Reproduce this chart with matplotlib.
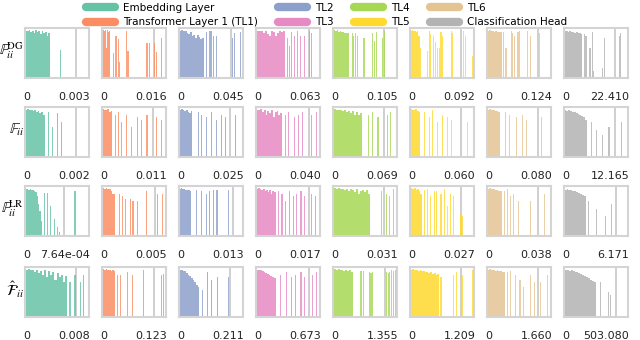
import numpy as np
import matplotlib.pyplot as plt
from matplotlib.lines import Line2D

plt.rcParams['font.family'] = ['DejaVu Sans']
plt.rcParams['mathtext.fontset'] = 'stix'

layers = ['Embedding Layer', 'Transformer Layer 1 (TL1)', 'TL2', 'TL3',
          'TL4', 'TL5', 'TL6', 'Classification Head']
colors = ['#66c2a5', '#fc8d62', '#8da0cb', '#e78ac3',
          '#a6d854', '#ffd92f', '#e5c494', '#b3b3b3']
row_labels = [r'$\mathbb{F}_{ii}^{\mathrm{DG}}$', r'$\mathbb{F}_{ii}$',
              r'$\mathbb{F}_{ii}^{\mathrm{LR}}$', r'$\hat{\mathcal{F}}_{ii}$']

# largest value of each panel (x axis runs from 0 to it)
max_dg = ['0.003', '0.016', '0.045', '0.063', '0.105', '0.092', '0.124', '22.410']
max_f = ['0.002', '0.011', '0.025', '0.040', '0.069', '0.060', '0.080', '12.165']
max_lr = ['7.64e-04', '0.005', '0.013', '0.017', '0.031', '0.027', '0.038', '6.171']
max_hat = ['0.008', '0.123', '0.211', '0.673', '1.355', '1.209', '1.660', '503.080']

# dense part near zero: end of block (fraction of max) and bar heights
dg_end = [0.38, 0.12, 0.38, 0.45, 0.24, 0.14, 0.22, 0.28]
dg_dense = [
    [0.95, 0.94, 0.96, 0.92, 0.95, 0.90, 0.96, 0.93, 0.95, 0.88, 0.94, 0.90, 0.92, 0.85, 0.90],
    [0.96, 0.95, 0.96, 0.60, 0.96, 0.93, 0.95],
    [0.95, 0.96, 0.94, 0.95, 0.90, 0.88, 0.93, 0.85, 0.87, 0.80, 0.86, 0.82, 0.78, 0.80],
    [0.95, 0.94, 0.95, 0.90, 0.95, 0.88, 0.85, 0.95, 0.92, 0.85, 0.90, 0.95, 0.93, 0.95],
    [0.96, 0.95, 0.96, 0.93, 0.94, 0.92, 0.93, 0.90, 0.91, 0.90],
    [0.95, 0.96, 0.94, 0.95, 0.93, 0.95, 0.85],
    [0.95, 0.96, 0.94, 0.95, 0.93, 0.95, 0.92, 0.93, 0.92],
    [0.94, 0.95, 0.93, 0.94, 0.92, 0.93, 0.91, 0.92, 0.90, 0.90, 0.89],
]
dg_x = [
    [0.55],
    [0.17, 0.21, 0.25, 0.27, 0.37, 0.40, 0.70, 0.74, 0.82, 0.85, 0.93],
    [0.42, 0.48, 0.50, 0.53, 0.58, 0.84, 0.87, 0.96],
    [0.49, 0.52, 0.55, 0.60, 0.65, 0.69, 0.76, 0.84, 0.87],
    [0.30, 0.32, 0.35, 0.37, 0.48, 0.61, 0.64, 0.68, 0.77, 0.80],
    [0.16, 0.26, 0.30, 0.32, 0.36, 0.39, 0.43, 0.46, 0.48, 0.50, 0.64, 0.66, 0.83, 0.86, 0.97],
    [0.25, 0.29, 0.37, 0.39, 0.43, 0.48, 0.50, 0.63, 0.68, 0.82],
    [0.31, 0.33, 0.35, 0.40, 0.44, 0.46, 0.60, 0.63, 0.86, 0.88],
]
dg_h = [
    [0.57],
    [0.50, 0.85, 0.78, 0.33, 0.95, 0.54, 0.70, 0.70, 0.70, 0.52, 0.80],
    [0.93, 0.95, 0.95, 0.85, 0.85, 0.80, 0.90, 0.92],
    [0.80, 0.65, 0.93, 0.85, 0.95, 0.85, 0.85, 0.95, 0.90],
    [0.90, 0.85, 0.90, 0.85, 0.80, 0.90, 0.75, 0.92, 0.80, 0.95],
    [0.60, 0.55, 0.95, 0.88, 0.85, 0.72, 0.60, 0.60, 0.92, 0.85, 0.95, 0.90, 0.95, 0.85, 0.45],
    [0.93, 0.60, 0.95, 0.90, 0.85, 0.92, 0.95, 0.95, 0.85, 0.90],
    [0.88, 0.85, 0.85, 0.60, 0.93, 0.15, 0.20, 0.80, 0.85, 0.90],
]
dg_vline = [0.80, 0.81, 0.81, 0.82, 0.80, 0.80, 0.80, 0.80]

f_end = [0.30, 0.15, 0.20, 0.40, 0.45, 0.15, 0.20, 0.35]
f_dense = [
    [0.95, 0.96, 0.94, 0.95, 0.92, 0.94, 0.90, 0.93, 0.88, 0.90, 0.85],
    [0.96, 0.95, 0.94, 0.96, 0.90, 0.93],
    [0.95, 0.96, 0.94, 0.92, 0.95, 0.90, 0.88, 0.92],
    [0.95, 0.94, 0.96, 0.90, 0.95, 0.85, 0.93, 0.88, 0.95, 0.80, 0.90, 0.92, 0.85, 0.88],
    [0.96, 0.95, 0.94, 0.95, 0.92, 0.95, 0.90, 0.93, 0.88, 0.92, 0.85, 0.90, 0.85, 0.88],
    [0.96, 0.95, 0.94, 0.96, 0.92, 0.90],
    [0.95, 0.96, 0.94, 0.95, 0.92, 0.93, 0.90],
    [0.94, 0.93, 0.94, 0.92, 0.91, 0.90, 0.88, 0.87, 0.85, 0.83, 0.80, 0.75],
]
f_x = [
    [0.36, 0.42, 0.50, 0.57],
    [0.20, 0.25, 0.30, 0.38, 0.45, 0.55, 0.62, 0.70, 0.85, 0.93],
    [0.30, 0.35, 0.42, 0.50, 0.58, 0.66, 0.72, 0.88],
    [0.45, 0.50, 0.60, 0.66, 0.73, 0.87, 0.95],
    [0.55, 0.62, 0.70, 0.85, 0.90],
    [0.22, 0.30, 0.35, 0.42, 0.50, 0.58, 0.65, 0.90],
    [0.28, 0.35, 0.45, 0.55, 0.62, 0.85],
    [0.42, 0.50, 0.60, 0.70, 0.90],
]
f_h = [
    [0.90, 0.60, 0.88, 0.70],
    [0.85, 0.90, 0.70, 0.85, 0.60, 0.80, 0.75, 0.85, 0.80, 0.75],
    [0.90, 0.85, 0.80, 0.90, 0.75, 0.85, 0.80, 0.85],
    [0.85, 0.90, 0.80, 0.85, 0.90, 0.85, 0.90],
    [0.85, 0.90, 0.80, 0.85, 0.90],
    [0.90, 0.80, 0.95, 0.70, 0.85, 0.80, 0.75, 0.70],
    [0.90, 0.85, 0.80, 0.85, 0.75, 0.80],
    [0.70, 0.55, 0.45, 0.60, 0.70],
]
f_vline = [0.80, 0.80, 0.80, 0.82, 0.80, 0.80, 0.80, 0.80]

lr_end = [0.26, 0.20, 0.18, 0.30, 0.57, 0.18, 0.22, 0.33]
lr_dense = [
    [0.95, 0.94, 0.93, 0.95, 0.92, 0.93, 0.90, 0.88, 0.80, 0.65, 0.50, 0.30],
    [0.96, 0.95, 0.96, 0.94, 0.95, 0.90, 0.85, 0.85],
    [0.95, 0.96, 0.94, 0.95, 0.93, 0.92, 0.93, 0.90],
    [0.95, 0.96, 0.94, 0.92, 0.95, 0.90, 0.93, 0.88, 0.92, 0.85, 0.90, 0.88],
    [0.96, 0.95, 0.96, 0.94, 0.95, 0.93, 0.95, 0.90, 0.94, 0.92, 0.88, 0.95, 0.85, 0.90, 0.92, 0.88, 0.93, 0.85],
    [0.96, 0.95, 0.96, 0.93, 0.95, 0.90, 0.85],
    [0.95, 0.96, 0.94, 0.95, 0.93, 0.92, 0.90, 0.90],
    [0.93, 0.94, 0.92, 0.93, 0.90, 0.91, 0.88, 0.87, 0.85, 0.82, 0.80],
]
lr_x = [
    [0.30, 0.34, 0.39, 0.45, 0.50, 0.53, 0.78],
    [0.26, 0.31, 0.36, 0.44, 0.48, 0.55, 0.69, 0.87, 0.95],
    [0.27, 0.34, 0.42, 0.47, 0.54, 0.59, 0.77],
    [0.35, 0.40, 0.45, 0.52, 0.58, 0.63, 0.70, 0.76, 0.86, 0.93],
    [0.75, 0.83, 0.88, 0.94],
    [0.22, 0.27, 0.32, 0.37, 0.41, 0.48, 0.53, 0.58, 0.63, 0.68, 0.79, 0.82],
    [0.26, 0.31, 0.36, 0.41, 0.49, 0.67, 0.90],
    [0.38, 0.50, 0.64, 0.74],
]
lr_h = [
    [0.87, 0.87, 0.60, 0.35, 0.19, 0.08, 0.90],
    [0.85, 0.80, 0.75, 0.75, 0.70, 0.70, 0.90, 0.85, 0.85],
    [0.93, 0.90, 0.85, 0.90, 0.92, 0.92, 0.92],
    [0.90, 0.85, 0.70, 0.90, 0.80, 0.85, 0.90, 0.80, 0.85, 0.80],
    [0.90, 0.85, 0.80, 0.95],
    [0.93, 0.95, 0.80, 0.90, 0.90, 0.85, 0.95, 0.60, 0.85, 0.80, 0.45, 0.40],
    [0.90, 0.95, 0.80, 0.85, 0.70, 0.70, 0.85],
    [0.70, 0.55, 0.40, 0.65],
]
lr_vline = [0.60, 0.82, 0.85, 0.82, 0.80, 0.80, 0.80, 0.81]

hat_end = [0.65, 0.20, 0.31, 0.30, 0.31, 0.45, 0.28, 0.50]
hat_dense = [
    [0.95, 0.96, 0.94, 0.95, 0.90, 0.95, 0.88, 0.93, 0.85, 0.95, 0.80, 0.92, 0.85, 0.90, 0.75, 0.88, 0.80, 0.85, 0.70, 0.82],
    [0.96, 0.95, 0.96, 0.94, 0.95, 0.93, 0.95, 0.92],
    [0.95, 0.94, 0.93, 0.92, 0.88, 0.85, 0.82, 0.78, 0.75, 0.70, 0.65, 0.60],
    [0.95, 0.94, 0.95, 0.92, 0.90, 0.88, 0.86, 0.85, 0.82, 0.80, 0.78],
    [0.96, 0.95, 0.96, 0.94, 0.95, 0.93, 0.95, 0.92, 0.94, 0.90],
    [0.95, 0.96, 0.95, 0.94, 0.93, 0.94, 0.92, 0.93, 0.90, 0.91, 0.88, 0.90, 0.87, 0.88, 0.85, 0.86],
    [0.95, 0.96, 0.94, 0.95, 0.93, 0.94, 0.92, 0.93, 0.90, 0.91],
    [0.95, 0.94, 0.93, 0.94, 0.92, 0.91, 0.90, 0.88, 0.87, 0.85, 0.82, 0.80, 0.78, 0.75, 0.72, 0.70],
]
hat_x = [
    [0.70, 0.78, 0.86, 0.91],
    [0.23, 0.28, 0.39, 0.47, 0.65, 0.93, 0.96],
    [0.36, 0.44, 0.50, 0.60, 0.77],
    [0.38, 0.47, 0.55, 0.62, 0.70, 0.76, 0.88, 0.95],
    [0.42, 0.44, 0.47, 0.57, 0.59, 0.61, 0.83, 0.86, 0.88, 0.91, 0.94, 0.97],
    [0.48, 0.68, 0.73, 0.82, 0.97],
    [0.31, 0.36, 0.44, 0.51, 0.56, 0.67, 0.74, 0.84, 0.94],
    [0.56, 0.69, 0.73],
]
hat_h = [
    [0.70, 0.85, 0.70, 0.85],
    [0.85, 0.85, 0.90, 0.85, 0.95, 0.85, 0.87],
    [0.55, 0.90, 0.75, 0.80, 0.80],
    [0.85, 0.90, 0.80, 0.85, 0.90, 0.80, 0.85, 0.90],
    [0.93, 0.92, 0.93, 0.90, 0.88, 0.90, 0.90, 0.88, 0.90, 0.95, 0.92, 0.95],
    [0.80, 0.85, 0.90, 0.85, 0.95],
    [0.90, 0.92, 0.85, 0.75, 0.60, 0.85, 0.70, 0.70, 0.85],
    [0.70, 0.50, 0.45],
]
hat_vline = [0.80, 0.81, 0.80, 0.82, 0.81, 0.80, 0.80, 0.81]

rows = [
    (dg_end, dg_dense, dg_x, dg_h, dg_vline, max_dg),
    (f_end, f_dense, f_x, f_h, f_vline, max_f),
    (lr_end, lr_dense, lr_x, lr_h, lr_vline, max_lr),
    (hat_end, hat_dense, hat_x, hat_h, hat_vline, max_hat),
]

fig = plt.figure(figsize=(6.4, 3.4), dpi=100)

W, H = 640, 340
col_left = [25 + 77 * c for c in range(8)]
row_top = [28, 107, 186, 267]
aw, ah = 64, 50

for r, (ends, dense, sx, sh, vl, mx) in enumerate(rows):
    for c in range(8):
        ax = fig.add_axes([col_left[c] / W, 1 - (row_top[r] + ah) / H, aw / W, ah / H])
        col = colors[c]
        n = len(dense[c])
        step = ends[c] / n
        xs = np.arange(n) * step + step / 2
        ax.bar(xs, dense[c], width=step, color=col, alpha=0.85, linewidth=0)
        ax.bar(sx[c], sh[c], width=0.018, color=col, alpha=0.8, linewidth=0)
        ax.axvline(vl[c], color='#cccccc', lw=1.3, zorder=0)
        ax.set_xlim(-0.01, 1.0)
        ax.set_ylim(0, 1.0)
        ax.set_xticks([])
        ax.set_yticks([])
        for s in ax.spines.values():
            s.set_color('#d4d4d4')
            s.set_linewidth(1.5)
        ax.text(0.02, -0.38, '0', transform=ax.transAxes, ha='center', va='center',
                fontsize=8, color='#222222')
        ax.text(1.02, -0.38, mx[c], transform=ax.transAxes, ha='right', va='center',
                fontsize=8, color='#222222')
        if c == 0:
            ax.text(-0.02, 0.55, row_labels[r], transform=ax.transAxes, ha='right',
                    va='center', fontsize=11)

handles = [Line2D([0], [0], color=colors[i], lw=6, solid_capstyle='round')
           for i in range(8)]
fig.legend(handles, layers, ncol=4, loc='upper center', bbox_to_anchor=(0.51, 1.02),
           frameon=False, fontsize=7.5, handlelength=2.8, handletextpad=0.7,
           columnspacing=2.0, labelspacing=0.45)

fig.savefig('out.png', dpi=100)
